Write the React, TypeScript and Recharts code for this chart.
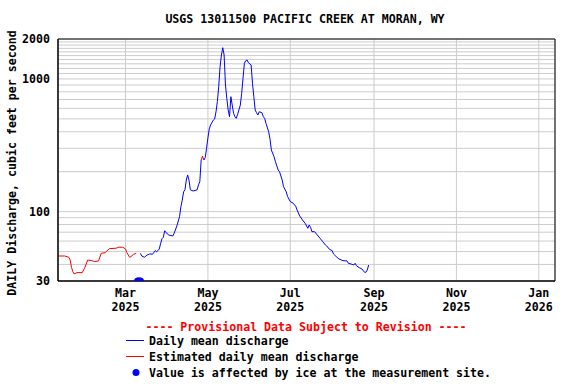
import React from 'react';
import { ComposedChart, Line, Scatter, XAxis, YAxis, CartesianGrid, ReferenceArea } from 'recharts';

// Days counted from 2025-01-01 (day 0)
const xDomain = [9, 377];
const xTicks = [59, 120, 181, 243, 304, 365];
const xTickMonths = ['Mar', 'May', 'Jul', 'Sep', 'Nov', 'Jan'];
const xTickYears = ['2025', '2025', '2025', '2025', '2025', '2026'];

const yTicks = [30, 40, 50, 60, 70, 80, 90, 100, 200, 300, 400, 500, 600, 700, 800, 900,
  1000, 1100, 1200, 1300, 1400, 1500, 1600, 1700, 1800, 1900, 2000];
const yLabeled = [30, 100, 1000, 2000];

// Estimated (red) segments
const est1Days = [9, 14, 17, 18, 19, 20, 21, 23, 27, 29, 31, 34, 36, 39, 41, 44, 47, 52, 54, 57, 59, 60, 62, 63, 65, 67];
const est1Values = [46.3, 46.3, 45.3, 43.2, 38, 35.3, 33.9, 34.7, 34.7, 38.1, 43.2, 42.7, 42.0, 42.5, 48.5, 49.1, 52.6, 53.0, 53.9, 53.9, 52.3, 49.1, 45.3, 45.8, 47.7, 48.5];
const est2Days = [115, 116, 117];
const est2Values = [245, 262, 245];

// Daily mean discharge (blue)
const obsDays = [70, 71, 73, 75, 77, 79, 81, 82, 84, 85, 86, 87, 88, 89, 91, 94, 95, 97, 99, 100,
  101, 102, 103, 104, 105, 106, 107, 109, 112, 113, 114, 115, 116, 117, 118, 119, 120, 121, 122, 124,
  125, 126, 127, 128, 129, 130, 131, 132, 133, 134, 135, 136, 137, 138, 139, 140, 141, 142, 144, 145,
  146, 147, 148, 149, 150, 152, 153, 154, 155, 156, 157, 158, 160, 161, 162, 163, 165, 166, 167, 169,
  170, 172, 173, 175, 176, 178, 179, 181, 183, 185, 186, 188, 190, 192, 194, 195, 196, 197, 199, 201,
  203, 205, 207, 208, 210, 212, 213, 215, 217, 220, 223, 224, 226, 228, 229, 230, 232, 234, 236, 237,
  238, 239];
const obsValues = [48.5, 46.3, 45.3, 47.1, 48.0, 47.7, 50.8, 49.7, 52.3, 57.7, 62.5, 64.1, 71.8, 69.4, 66.7, 65.5, 68.7, 77.9, 91.6, 109,
  122, 141, 146, 173, 189, 173, 146, 143, 146, 159, 168, 245, null, 245, 255, 300, 360, 420, 450, 490,
  499, 566, 674, 874, 1237, 1515, 1720, 1515, 900, 715, 583, 519, 735, 636, 551, 519, 505, 541, 636, 779,
  1011, 1312, 1372, 1389, 1326, 1274, 927, 735, 583, 557, 535, 566, 557, 519, 505, 463, 400, 351, 291, 259,
  238, 206, 200, 173, 154, 141, 130, 119, 116, 110, 103, 92.7, 86.5, 81.7, 74.9, 79.3, 76.2, 70.6, 70.6, 66.7,
  63.0, 59.4, 56.0, 55.1, 52.0, 50.8, 47.9, 45.8, 44.0, 42.7, 42.5, 40.8, 40.3, 39.6, 40.8, 39.1, 37.8, 37.0, 34.9, 34.9,
  36.3, 39.6];

// Ice-affected days (plotted at the bottom of the axis)
const iceDays = [68, 69, 70];
const iceValues = [30, 30, 30];

const est1Data = est1Days.map((d, i) => ({ d, v: est1Values[i] }));
const est2Data = est2Days.map((d, i) => ({ d, v: est2Values[i] }));
const obsData = obsDays.map((d, i) => ({ d, v: obsValues[i] }));
const iceData = iceDays.map((d, i) => ({ d, v: iceValues[i] }));

const FONT = '"DejaVu Sans Mono", monospace';
const FS = 11.6;

const XTick = (props: any) => {
  const { x, y, payload } = props;
  const i = xTicks.indexOf(payload.value);
  return (
    <g>
      <text x={x} y={y + 8} textAnchor="middle" fontFamily={FONT} fontSize={FS} fontWeight="bold" fill="#000">{xTickMonths[i]}</text>
      <text x={x} y={y + 22} textAnchor="middle" fontFamily={FONT} fontSize={FS} fontWeight="bold" fill="#000">{xTickYears[i]}</text>
    </g>
  );
};

const YTick = (props: any) => {
  const { x, y, payload } = props;
  if (!yLabeled.includes(payload.value)) return <g />;
  return (
    <text x={x} y={y} dy={4} textAnchor="end" fontFamily={FONT} fontSize={FS} fontWeight="bold" fill="#000">{String(payload.value)}</text>
  );
};

export default function App() {
  return (
    <div style={{ position: 'absolute', left: 0, top: 0, width: 576, height: 384, background: '#fff' }}>
      <ComposedChart width={576} height={384} margin={{ top: 39, right: 21, bottom: 63, left: 0 }}>
        <CartesianGrid stroke="#cccccc" strokeWidth={1} />
        <XAxis type="number" dataKey="d" domain={xDomain} ticks={xTicks} allowDataOverflow
          tick={<XTick />} tickLine={false} axisLine={{ stroke: '#000' }} height={40} interval={0} />
        <YAxis type="number" dataKey="v" scale="log" domain={[30, 2000]} ticks={yTicks} allowDataOverflow
          tick={<YTick />} tickLine={false} axisLine={{ stroke: '#000' }} width={58} interval={0} />
        <ReferenceArea x1={9} x2={377} y1={30} y2={2000} fill="none" fillOpacity={0} stroke="#000" strokeWidth={1} />
        <Line data={est1Data} dataKey="v" type="linear" stroke="#ff0000" strokeWidth={1} dot={false} isAnimationActive={false} />
        <Line data={est2Data} dataKey="v" type="linear" stroke="#ff0000" strokeWidth={1} dot={false} isAnimationActive={false} />
        <Line data={obsData} dataKey="v" type="linear" stroke="#0000ff" strokeWidth={1} dot={false} isAnimationActive={false} />
        <Scatter data={iceData} dataKey="v" fill="#0000ff" isAnimationActive={false}
          shape={(p: any) => <circle cx={p.cx} cy={p.cy} r={3.6} fill="#0000ff" />} />
      </ComposedChart>
      <svg width={576} height={384} style={{ position: 'absolute', left: 0, top: 0, pointerEvents: 'none' }}>
        <text x={305} y={23} textAnchor="middle" fontFamily={FONT} fontSize={FS} fontWeight="bold" fill="#000">USGS 13011500 PACIFIC CREEK AT MORAN, WY</text>
        <text transform="translate(16,163) rotate(-90)" textAnchor="middle" fontFamily={FONT} fontSize={FS} fontWeight="bold" fill="#000">DAILY Discharge, cubic feet per second</text>
        <text x={306} y={331} textAnchor="middle" fontFamily={FONT} fontSize={FS} fontWeight="bold" fill="#ff0000">---- Provisional Data Subject to Revision ----</text>
        <line x1={126} x2={144} y1={340.5} y2={340.5} stroke="#0000ff" strokeWidth={1} />
        <text x={149} y={345} fontFamily={FONT} fontSize={FS} fontWeight="bold" fill="#000">Daily mean discharge</text>
        <line x1={126} x2={144} y1={356.5} y2={356.5} stroke="#ff0000" strokeWidth={1} />
        <text x={149} y={361} fontFamily={FONT} fontSize={FS} fontWeight="bold" fill="#000">Estimated daily mean discharge</text>
        <circle cx={136} cy={372.5} r={3.5} fill="#0000ff" />
        <text x={149} y={377} fontFamily={FONT} fontSize={FS} fontWeight="bold" fill="#000">Value is affected by ice at the measurement site.</text>
      </svg>
    </div>
  );
}
